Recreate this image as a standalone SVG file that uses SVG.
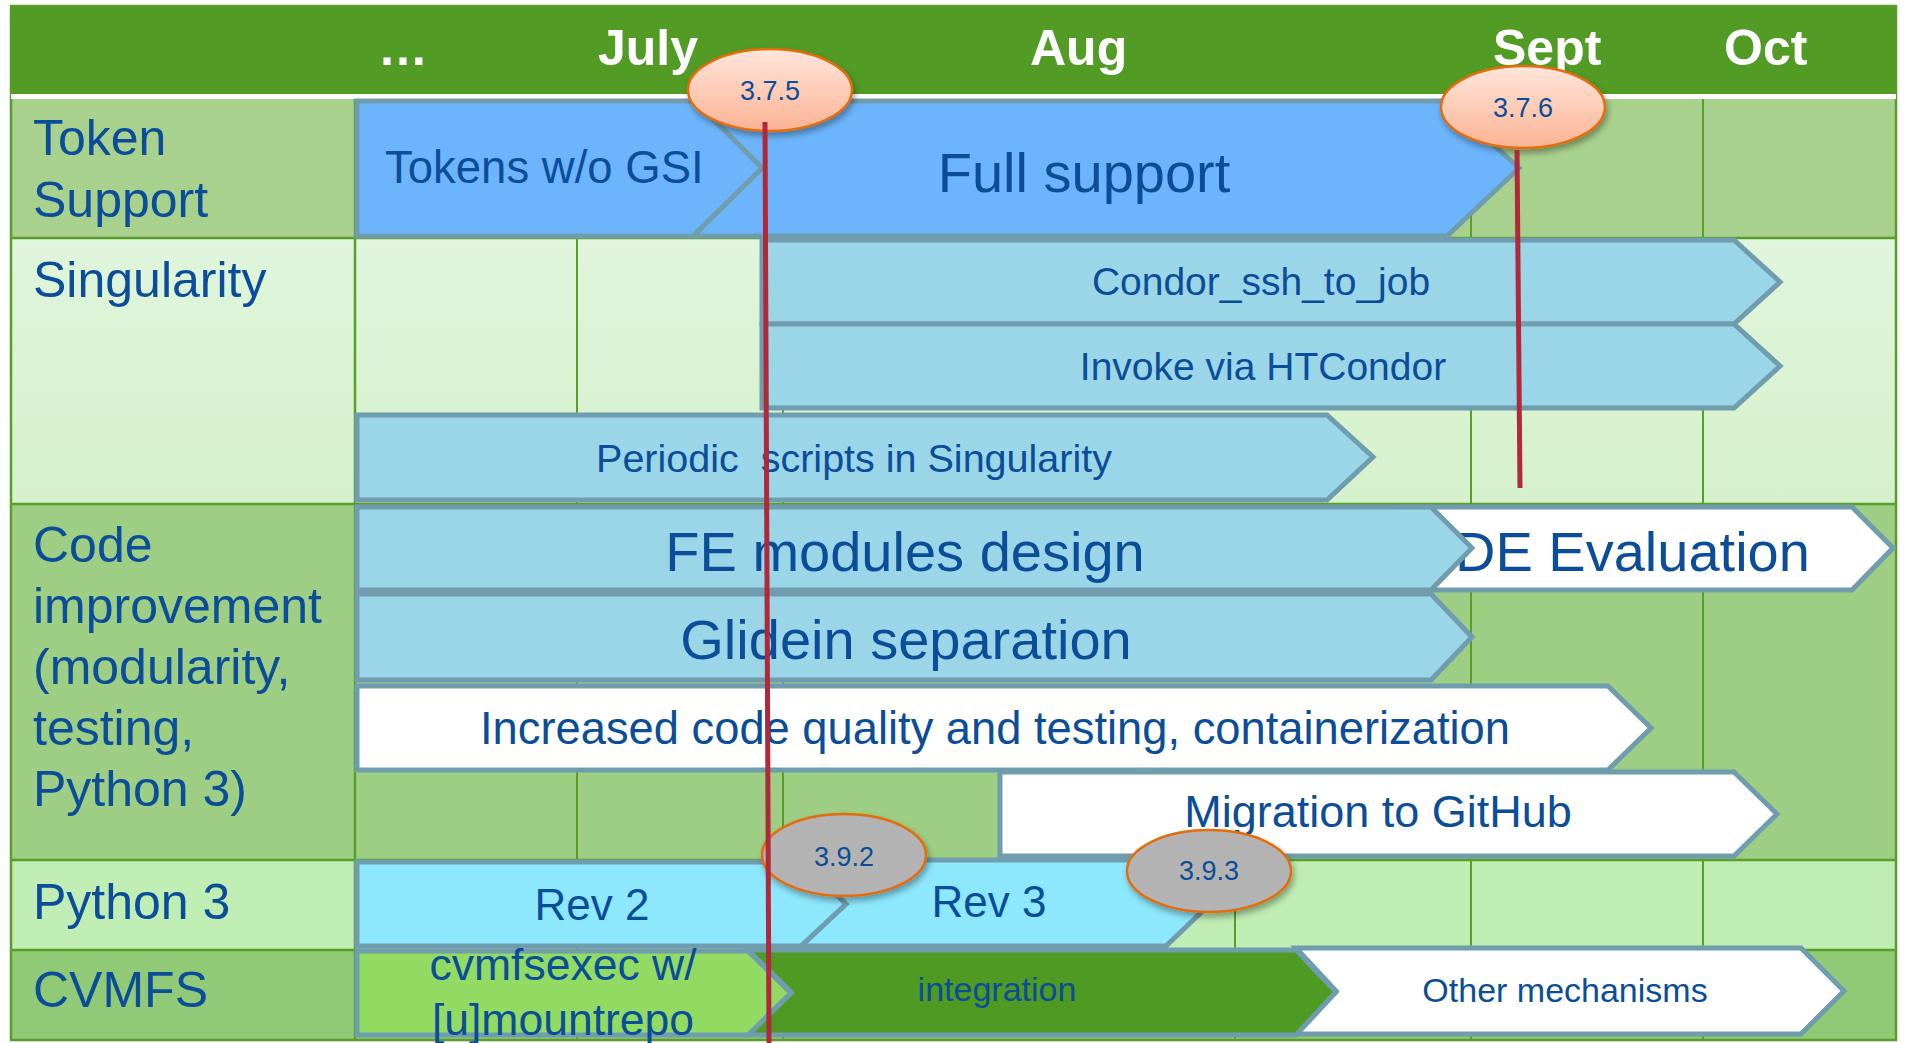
<svg xmlns="http://www.w3.org/2000/svg" width="1907" height="1043" viewBox="0 0 1907 1043">
<style>
.f{font-family:"Liberation Sans",Arial,Helvetica,sans-serif}
.lbl{font-size:50px;fill:#0B4D98}
.hdr{font-size:50px;font-weight:bold;fill:#ffffff}
.bt{fill:#0B4D98}
.bar{stroke:#6F9DAD;stroke-width:5;stroke-linejoin:miter}
.grid{stroke:#5A9E2A;stroke-width:2}
.sep{stroke:#5A9E2A;stroke-width:2.5}
.ms{stroke:#E46C0A;stroke-width:2.5}
.mt{font-size:27px;fill:#0B4D98;text-anchor:middle}
.red{stroke:#B0283A;stroke-width:5;stroke-linecap:butt}
.c{text-anchor:middle}
</style>
<defs>
<linearGradient id="peach" x1="0" y1="0" x2="0" y2="1">
<stop offset="0" stop-color="#FFE6DB"/>
<stop offset="1" stop-color="#FBB394"/>
</linearGradient>
<linearGradient id="singbg" x1="0" y1="0" x2="0" y2="1">
<stop offset="0" stop-color="#E0F5DC"/>
<stop offset="1" stop-color="#D5F1CB"/>
</linearGradient>
<filter id="sh" x="-20%" y="-20%" width="140%" height="150%">
<feDropShadow dx="2" dy="4" stdDeviation="3" flood-color="#000" flood-opacity="0.35"/>
</filter>
</defs>
<rect x="0" y="0" width="1907" height="1043" fill="#ffffff"/>

<g id="table">
<rect x="11" y="99" width="1885" height="139" fill="#A9D18E"/>
<rect x="11" y="238" width="1885" height="266" fill="url(#singbg)"/>
<rect x="11" y="504" width="1885" height="356" fill="#9DCE83"/>
<rect x="11" y="860" width="1885" height="90" fill="#BFEDB3"/>
<rect x="11" y="950" width="1885" height="90" fill="#91CA76"/>
<g id="grid">
<line class="grid" x1="577" y1="99" x2="577" y2="1040"/>
<line class="grid" x1="783" y1="99" x2="783" y2="1040"/>
<line class="grid" x1="1235" y1="860" x2="1235" y2="1040"/>
<line class="grid" x1="1471" y1="99" x2="1471" y2="1040"/>
<line class="grid" x1="1703" y1="99" x2="1703" y2="1040"/>
</g>
<line class="sep" x1="11" y1="238" x2="1896" y2="238"/>
<line class="sep" x1="11" y1="504" x2="1896" y2="504"/>
<line class="sep" x1="11" y1="860" x2="1896" y2="860"/>
<line class="sep" x1="11" y1="950" x2="1896" y2="950"/>
<line class="sep" x1="355" y1="99" x2="355" y2="1040"/>
<rect x="11" y="6" width="1885" height="1034" fill="none" stroke="#5A9E2A" stroke-width="2.5"/>
</g>

<g id="header">
<rect x="11" y="6" width="1885" height="88" fill="#529B25"/>
<rect x="11" y="94" width="1885" height="5" fill="#ffffff"/>
<text class="f hdr" x="378" y="65">…</text>
<text class="f hdr" x="598" y="65">July</text>
<text class="f hdr" x="1030" y="65">Aug</text>
<text class="f hdr" x="1493" y="65">Sept</text>
<text class="f hdr" x="1724" y="65">Oct</text>
</g>

<g id="row-labels">
<text class="f lbl" x="33" y="155">Token</text>
<text class="f lbl" x="33" y="217">Support</text>
<text class="f lbl" x="33" y="297">Singularity</text>
<text class="f lbl" x="33" y="562">Code</text>
<text class="f lbl" x="33" y="623">improvement</text>
<text class="f lbl" x="33" y="684">(modularity,</text>
<text class="f lbl" x="33" y="745">testing,</text>
<text class="f lbl" x="33" y="806">Python 3)</text>
<text class="f lbl" x="33" y="919">Python 3</text>
<text class="f lbl" x="33" y="1007">CVMFS</text>
</g>

<g id="full-support">
<polygon class="bar" fill="#6CB5FC" points="695,101 1445,101 1519,168 1447,236 693,236 762,168"/>
<text class="f bt c" x="1084" y="192" font-size="56">Full support</text>
</g>
<g id="tokens-wo-gsi">
<polygon class="bar" fill="#6CB5FC" points="357,101 695,101 762,168 693,236 357,236"/>
<text class="f bt" x="385" y="183" font-size="45.5">Tokens w/o GSI</text>
</g>

<g id="condor-ssh">
<polygon class="bar" fill="#9AD5E8" points="762,240 1734,240 1780,282 1734,324 762,324"/>
<text class="f bt c" x="1261" y="295" font-size="39">Condor_ssh_to_job</text>
</g>
<g id="invoke-htcondor">
<polygon class="bar" fill="#9AD5E8" points="762,324 1734,324 1780,366 1734,408 762,408"/>
<text class="f bt c" x="1263" y="380" font-size="39">Invoke via HTCondor</text>
</g>
<g id="periodic-scripts">
<polygon class="bar" fill="#9AD5E8" points="357,415 1327,415 1373,457 1327,500 357,500"/>
<text class="f bt c" x="854" y="472" font-size="39.5">Periodic&#160; scripts in Singularity</text>
</g>

<g id="de-evaluation">
<polygon class="bar" fill="#ffffff" points="1400,507 1852,507 1893,548 1852,590 1400,590"/>
<text class="f bt" x="1455" y="571" font-size="56">DE Evaluation</text>
</g>
<g id="fe-modules">
<polygon class="bar" fill="#9AD5E8" points="357,507 1431,507 1472,548 1431,590 357,590"/>
<text class="f bt c" x="905" y="571" font-size="56">FE modules design</text>
</g>
<g id="glidein-separation">
<polygon class="bar" fill="#9AD5E8" points="357,594 1431,594 1472,637 1431,680 357,680"/>
<text class="f bt c" x="906" y="659" font-size="56">Glidein separation</text>
</g>
<g id="code-quality">
<polygon class="bar" fill="#ffffff" points="357,686 1608,686 1651,728 1608,770 357,770"/>
<text class="f bt c" x="995" y="744" font-size="45.3">Increased code quality and testing, containerization</text>
</g>
<g id="migration-github">
<polygon class="bar" fill="#ffffff" points="1000,772 1734,772 1777,814 1734,856 1000,856"/>
<text class="f bt c" x="1378" y="827" font-size="45">Migration to GitHub</text>
</g>

<g id="rev3">
<polygon class="bar" fill="#8DE7FD" points="801,860 1166,860 1211,903 1166,946 801,946 846,904"/>
<text class="f bt c" x="989" y="917" font-size="44">Rev 3</text>
</g>
<g id="rev2">
<polygon class="bar" fill="#8DE7FD" points="357,862 801,862 846,904 801,946 357,946"/>
<text class="f bt c" x="592" y="920" font-size="44">Rev 2</text>
</g>

<g id="other-mechanisms">
<polygon class="bar" fill="#ffffff" points="1296,948 1801,948 1844,991 1801,1034 1296,1034 1336,991"/>
<text class="f bt c" x="1565" y="1002" font-size="34">Other mechanisms</text>
</g>
<g id="integration">
<polygon class="bar" fill="#4F9A22" points="748,950 1296,950 1336,992 1296,1035 748,1035 791,992"/>
<text class="f bt c" x="997" y="1001" font-size="34">integration</text>
</g>
<g id="cvmfsexec">
<polygon class="bar" fill="#92DB62" points="357,951 748,951 791,993 748,1035 357,1035"/>
<text class="f bt c" x="563" y="980" font-size="44.5">cvmfsexec w/</text>
<text class="f bt c" x="563" y="1035" font-size="44.5">[u]mountrepo</text>
</g>

<g id="ms-375">
<ellipse class="ms" cx="770" cy="90" rx="82" ry="41" fill="url(#peach)" filter="url(#sh)"/>
<text class="f mt" x="770" y="100">3.7.5</text>
</g>
<g id="ms-376">
<ellipse class="ms" cx="1523" cy="107" rx="82" ry="41" fill="url(#peach)" filter="url(#sh)"/>
<text class="f mt" x="1523" y="117">3.7.6</text>
</g>
<g id="ms-392">
<ellipse class="ms" cx="844" cy="855" rx="82" ry="41" fill="#B3B3B3" filter="url(#sh)"/>
<text class="f mt" x="844" y="866">3.9.2</text>
</g>
<g id="ms-393">
<ellipse class="ms" cx="1209" cy="871" rx="82" ry="41" fill="#B3B3B3" filter="url(#sh)"/>
<text class="f mt" x="1209" y="880">3.9.3</text>
</g>

<g id="connectors">
<line class="red" x1="765" y1="122" x2="769" y2="1043"/>
<line class="red" x1="1517" y1="150" x2="1520" y2="488"/>
</g>
</svg>
